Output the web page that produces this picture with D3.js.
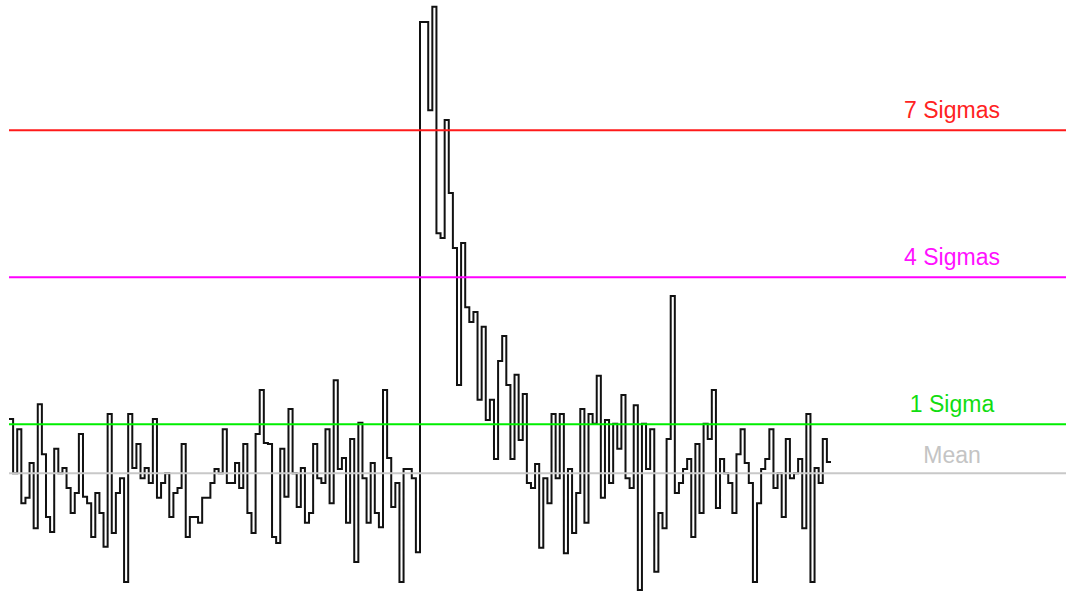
<!DOCTYPE html>
<html>
<head>
<meta charset="utf-8">
<script src="https://cdn.jsdelivr.net/npm/d3@7"></script>
<style>
  html, body { margin: 0; padding: 0; background: #fff; }
  svg { display: block; }
</style>
</head>
<body>
<svg id="chart" width="1066" height="591"></svg>
<script>
// Signal per bin, in units of standard deviations from the mean
const signal = [
  1.11, 0.00, 0.90, -0.61, -0.50, 0.21, -1.12, 1.41, 0.39, -0.89,
  -1.20, 0.50, 0.00, 0.11, -0.30, -0.81, -0.40, 0.80, -0.48, -0.61,
  -1.30, -0.40, -0.81, -1.50, 1.21, -1.22, -0.40, -0.10, -2.22, 1.21,
  0.11, 0.60, -0.10, 0.11, -0.20, 1.11, -0.50, -0.20, 0.00, -0.89,
  -0.40, -0.30, 0.60, -1.30, -0.89, -0.89, -1.01, -0.50, -0.50, -0.20,
  0.09, 0.00, 0.90, -0.20, -0.20, 0.21, -0.30, 0.60, -0.81, -1.22,
  0.80, 1.70, 0.62, 0.60, -1.30, -1.42, 0.50, -0.48, 1.31, 0.00,
  -0.69, 0.11, -1.01, -0.81, 0.60, -0.10, -0.20, 0.90, -0.61, 1.90,
  0.09, 0.31, -1.01, 0.70, -1.81, 1.03, -0.10, -1.01, 0.21, -0.81,
  -1.10, 1.70, 0.31, -0.69, -0.20, -2.22, 0.09, 0.09, -0.10, -1.61,
  9.21, 9.21, 7.41, 9.52, 4.90, 4.80, 7.21, 5.72, 4.60, 1.80,
  4.70, 3.39, 3.09, 3.29, 1.50, 2.99, 1.09, 1.50, 0.29, 2.29,
  2.80, 1.80, 0.29, 2.01, 0.68, 1.62, -0.20, -0.30, 0.19, -1.52,
  -0.10, -0.61, 1.21, -0.10, 1.21, -1.63, 0.09, -1.22, -0.40, 1.31,
  -1.01, 1.21, 1.01, 1.99, -0.50, 1.09, -0.20, 1.01, 0.50, 1.60,
  -0.10, -0.30, 1.39, -2.38, 1.01, 0.09, 0.90, -2.01, -0.81, -1.12,
  0.70, 3.62, -0.40, -0.20, 0.09, 0.29, -1.30, 0.60, -0.81, 1.01,
  0.70, 1.70, -0.71, 0.29, 0.00, -0.20, -0.81, 0.39, 0.90, 0.21,
  -0.20, -2.22, -0.61, 0.09, 0.29, 0.90, -0.30, 0.00, -0.89, 0.70,
  -0.10, 0.00, 0.29, -1.12, 1.21, -2.22, 0.11, -0.20, 0.70, 0.23
];

// Threshold levels (sigmas above the mean) with their labels and colours
const levelValues = [7, 4, 1, 0];
const levelLabels = ["7 Sigmas", "4 Sigmas", "1 Sigma", "Mean"];
const levelColors = ["#ff1a1a", "#ff00ff", "#00ee00", "#c8c8c8"];
const labelColors = ["#ff2222", "#ff11ff", "#11dd11", "#c4c4c4"];

const width = 1066, height = 591;
const svg = d3.select("#chart");

const x = d3.scaleLinear().domain([0, signal.length]).range([9, 831]);
const y = d3.scaleLinear().domain([0, 7]).range([473.3, 130.3]);

// Step trace: each bin holds its value until the next one
const points = signal.map((v, i) => [i, v]);
points.push([signal.length, signal[signal.length - 1]]);

const line = d3.line()
  .x(d => x(d[0]))
  .y(d => y(d[1]))
  .curve(d3.curveStepAfter);

svg.append("path")
  .datum(points)
  .attr("d", line)
  .attr("fill", "none")
  .attr("stroke", "#111")
  .attr("stroke-width", 2)
  .attr("stroke-linejoin", "miter");

// Horizontal reference lines
const levels = levelValues.map((v, i) => ({
  value: v, label: levelLabels[i], color: levelColors[i], textColor: labelColors[i]
}));

svg.selectAll("line.level")
  .data(levels)
  .join("line")
  .attr("class", "level")
  .attr("x1", x(0))
  .attr("x2", width)
  .attr("y1", d => y(d.value))
  .attr("y2", d => y(d.value))
  .attr("stroke", d => d.color)
  .attr("stroke-width", 2);

svg.selectAll("text.level-label")
  .data(levels)
  .join("text")
  .attr("class", "level-label")
  .attr("x", 952)
  .attr("y", d => y(d.value) - (d.value === 0 ? 10 : 12.5))
  .attr("text-anchor", "middle")
  .attr("font-family", "'Liberation Sans', Arial, Helvetica, sans-serif")
  .attr("font-size", 23)
  .attr("fill", d => d.textColor)
  .text(d => d.label);
</script>
</body>
</html>
